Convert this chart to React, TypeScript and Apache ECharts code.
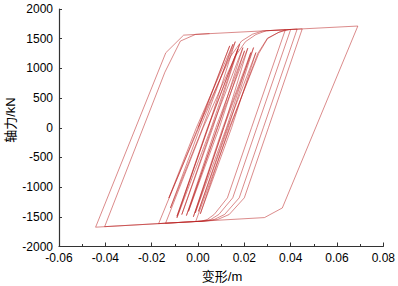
import React, { useEffect, useRef } from 'react';
import * as echarts from 'echarts';

// Axis ranges
const X_MIN = -0.06;
const X_MAX = 0.08;
const X_STEP = 0.02;
const Y_MIN = -2000;
const Y_MAX = 2000;
const Y_STEP = 500;

const X_NAME = '变形/m';
const Y_NAME = '轴力/kN';

// Small slender cycles near the origin [displacement m, force kN]
const smallCycles: number[][] = [
  [0, 0],
  [0.0137, 1380], [0.0003, 0], [-0.0126, -1184], [-0.0007, 0],
  [0.0151, 1408], [0.002, 0], [-0.0119, -1351], [0.0009, 0],
  [0.0161, 1451], [0.0044, 0], [-0.0091, -1491], [0.0041, 0],
  [0.0172, 1324], [0.0057, 0], [-0.0091, -1518], [0.0043, 0],
  [0.018, 1408], [0.0064, 0], [-0.007, -1463], [0.006, 0],
  [0.0194, 1350], [0.0085, 0], [-0.005, -1480], [0.0077, 0],
  [0.0201, 1296], [0.0092, 0], [-0.0041, -1408], [0.0083, 0],
  [0.0215, 1341], [0.0111, 0], [-0.002, -1500], [0.0107, 0],
  [0.0228, 1267], [0.0123, 0], [-0.0012, -1435], [0.0111, 0],
  [0.024, 1351], [0.013, 0], [0.0002, -1408], [0.0126, 0],
  [0.025, 1267], [0.0145, 0], [0.001, -1450],
];

// Medium cycles reaching the upper envelope
const mediumCycles: number[][] = [
  [0.0135, 0], [0.0262, 1250], [0.03, 1500], [0.0345, 1600], [0.0377, 1650],
  [0.0231, 0], [0.0127, -1180], [0.007, -1460], [0.004, -1545], [0.0015, -1574], [-0.014, -1608],
  [0.0022, 0], [0.016, 1200], [0.0205, 1450], [0.025, 1570], [0.0295, 1634], [0.04, 1655],
  [0.0254, 0], [0.015, -1180], [0.009, -1460], [0.0055, -1545], [0.0025, -1571], [-0.017, -1615],
  [0.0, 0], [0.014, 1200], [0.0188, 1460], [0.0235, 1575], [0.028, 1631], [0.0428, 1661],
  [0.0282, 0], [0.0178, -1180], [0.0115, -1460], [0.007, -1545], [0.0035, -1569], [-0.001, -1580],
  [0.0138, 0], [0.0258, 1250], [0.03, 1510], [0.035, 1610], [0.0395, 1654], [0.045, 1665],
  [0.0304, 0], [0.02, -1180], [0.0135, -1460], [0.0085, -1545], [0.0045, -1567], [-0.0403, -1666],
];

// Large final cycles
const largeCycles: number[][] = [
  [-0.0143, 935], [-0.0076, 1460], [-0.001, 1573], [0.069, 1713],
  [0.0364, -1351], [0.0287, -1513], [-0.0442, -1675],
  [-0.0139, 1263], [-0.0062, 1560], [0.005, 1585],
];

const curve = [...smallCycles, ...mediumCycles, ...largeCycles];

const LABEL_FONT = 'Liberation Sans, Arial, sans-serif';
const NAME_FONT = 'Liberation Sans, Noto Sans CJK SC, sans-serif';

export default function App() {
  const ref = useRef<HTMLDivElement>(null);
  useEffect(() => {
    if (!ref.current) return;
    const chart = echarts.init(ref.current, null, { renderer: 'svg' });
    chart.setOption({
      animation: false,
      backgroundColor: '#ffffff',
      grid: { left: 59, right: 12, top: 9, bottom: 39.5, containLabel: false },
      xAxis: {
        type: 'value',
        min: X_MIN,
        max: X_MAX,
        interval: X_STEP,
        axisLine: { show: true, onZero: false, lineStyle: { color: '#333', width: 1.2 } },
        axisTick: { show: true, inside: true, length: 4, lineStyle: { color: '#333', width: 1 } },
        minorTick: { show: true, splitNumber: 2, length: 2.5, lineStyle: { color: '#333', width: 1 } },
        splitLine: { show: false },
        axisLabel: {
          color: '#000',
          fontSize: 12,
          fontFamily: LABEL_FONT,
          margin: 5,
          formatter: (v: number) => (Math.abs(v) < 1e-9 ? '0.00' : v.toFixed(2)),
        },
      },
      yAxis: {
        type: 'value',
        min: Y_MIN,
        max: Y_MAX,
        interval: Y_STEP,
        axisLine: { show: true, onZero: false, lineStyle: { color: '#333', width: 1.2 } },
        axisTick: { show: true, inside: true, length: 3, lineStyle: { color: '#333', width: 1 } },
        splitLine: { show: false },
        axisLabel: {
          color: '#000',
          fontSize: 12,
          fontFamily: LABEL_FONT,
          margin: 6,
          formatter: (v: number) => String(Math.round(v)),
        },
      },
      graphic: [
        {
          type: 'text',
          x: 222,
          y: 276,
          style: {
            text: X_NAME,
            fontSize: 13,
            fontFamily: NAME_FONT,
            fill: '#000',
            align: 'center',
            verticalAlign: 'middle',
          },
        },
        {
          type: 'text',
          x: 10,
          y: 120,
          rotation: Math.PI / 2,
          style: {
            text: Y_NAME,
            fontSize: 13,
            fontFamily: NAME_FONT,
            fill: '#000',
            align: 'center',
            verticalAlign: 'middle',
          },
        },
      ],
      series: [
        {
          type: 'line',
          data: curve,
          showSymbol: false,
          symbol: 'none',
          clip: false,
          lineStyle: { color: 'rgb(185,30,30)', width: 0.8, opacity: 0.65 },
        },
      ],
    });
    return () => chart.dispose();
  }, []);
  return (
    <div
      ref={ref}
      style={{ position: 'fixed', left: 0, top: 0, width: 398, height: 286, background: '#fff' }}
    />
  );
}
